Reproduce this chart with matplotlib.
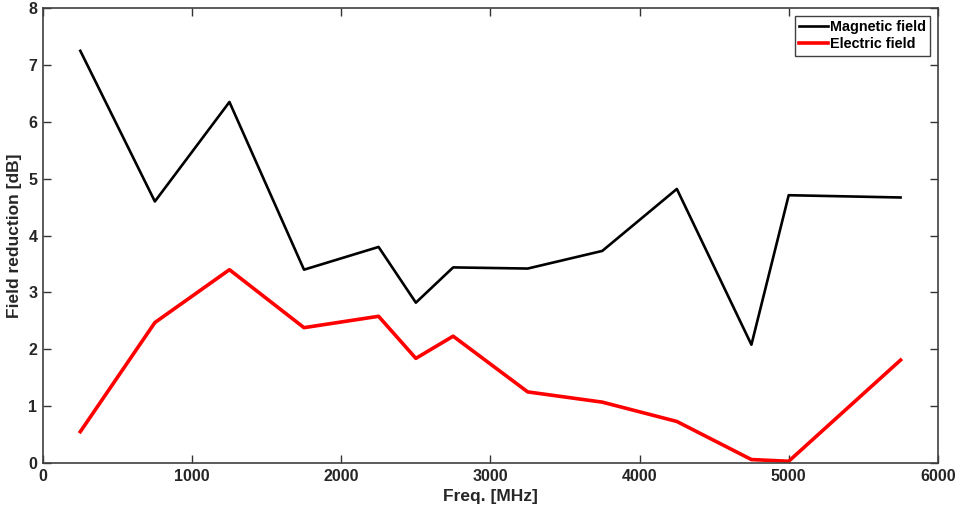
import matplotlib.pyplot as plt

plt.rcParams['font.family'] = ['Liberation Sans', 'DejaVu Sans']
plt.rcParams['font.weight'] = 'bold'

freq = [250, 750, 1250, 1750, 2250, 2500, 2750, 3250, 3750, 4250, 4750, 5000, 5750]
magnetic = [7.25, 4.6, 6.35, 3.4, 3.8, 2.82, 3.44, 3.42, 3.73, 4.82, 2.08, 4.71, 4.67]
electric = [0.55, 2.47, 3.4, 2.38, 2.58, 1.84, 2.23, 1.25, 1.07, 0.73, 0.06, 0.03, 1.81]

fig = plt.figure(figsize=(9.56, 5.11), dpi=100)
ax = fig.add_axes([0.045, 0.094, 0.936, 0.89])

ax.plot(freq, magnetic, color='black', lw=1.9, label='Magnetic field')
ax.plot(freq, electric, color='red', lw=2.6, label='Electric field')

ax.set_xlim(0, 6000)
ax.set_ylim(0, 8)
ax.set_xticks(range(0, 6001, 1000))
ax.set_yticks(range(0, 9))
ax.tick_params(direction='in', top=True, right=True, length=6, width=1,
               colors='#333333', labelcolor='#262626', labelsize=11.5, pad=4)
for s in ax.spines.values():
    s.set_color('#404040')
    s.set_linewidth(1.2)

ax.set_xlabel('Freq. [MHz]', fontsize=12.5, fontweight='bold', color='#262626', labelpad=4)
ax.set_ylabel('Field reduction [dB]', fontsize=12.5, fontweight='bold', color='#262626', labelpad=5)

leg = ax.legend(loc='upper right', fontsize=10.4, fancybox=False, framealpha=1,
                edgecolor='#404040', handlelength=2.0, handletextpad=0.1,
                borderpad=0.3, labelspacing=0.2, borderaxespad=0.55)
leg.get_frame().set_linewidth(1.0)

fig.savefig('out.png', dpi=100)
